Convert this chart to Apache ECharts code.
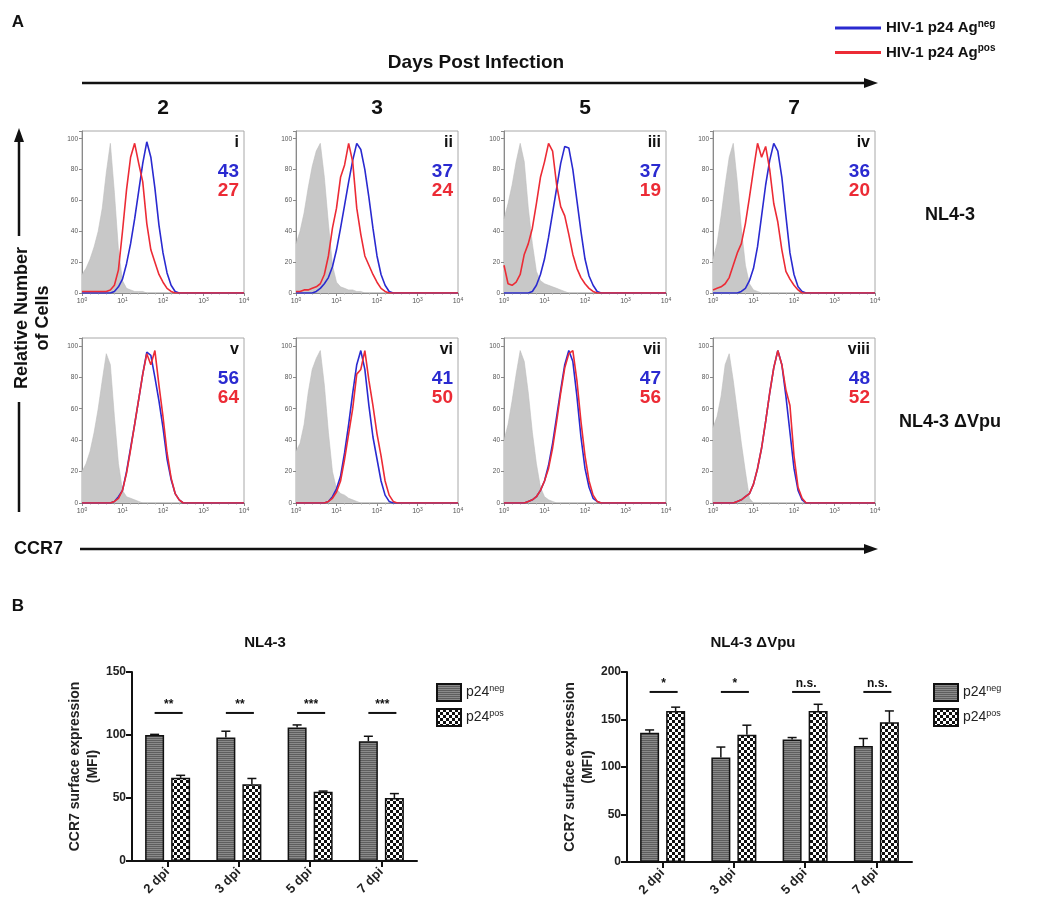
<!DOCTYPE html>
<html><head><meta charset="utf-8">
<script src="https://cdn.jsdelivr.net/npm/echarts@6/dist/echarts.min.js"></script>
<style>html,body{margin:0;padding:0;background:#fff}#c{width:1050px;height:908px}</style>
</head><body><div id="c"></div><script>
// ---------------- DATA ----------------
// histogram bins, position in decades (10^x)
const logBins = [0,0.1,0.2,0.3,0.4,0.5,0.6,0.7,0.8,0.9,1.0,1.1,1.2,1.3,1.4,1.5,1.6,1.7,1.8,1.9,2.0,2.1,2.2,2.3,2.4,2.5,2.6,4];
const panelLabels = ['i','ii','iii','iv','v','vi','vii','viii'];
const dayLabels = ['2','3','5','7'];
const rowLabels = ['NL4-3','NL4-3 \u0394Vpu'];
const mfiNeg = [43,37,37,36,56,41,47,48];
const mfiPos = [27,24,19,20,64,50,56,52];
// isotype control (grey filled)
const isotype = [
 [12,16,22,30,40,55,78,97,65,28,8,3,2,1,1,1,0,0,0,0,0,0,0,0,0,0,0,0],
 [32,40,52,68,82,92,97,75,45,18,7,4,3,2,2,1,1,0,0,0,0,0,0,0,0,0,0,0],
 [48,58,70,85,97,85,55,32,14,8,6,5,4,3,2,1,0,0,0,0,0,0,0,0,0,0,0,0],
 [22,32,50,70,88,97,72,42,18,6,2,1,0,0,0,0,0,0,0,0,0,0,0,0,0,0,0,0],
 [20,25,33,45,60,78,95,88,55,25,8,4,3,2,1,0,0,0,0,0,0,0,0,0,0,0,0,0],
 [33,38,50,70,85,92,97,75,45,20,9,6,5,3,2,1,0,0,0,0,0,0,0,0,0,0,0,0],
 [40,50,65,82,97,90,70,45,25,10,4,2,1,0,0,0,0,0,0,0,0,0,0,0,0,0,0,0],
 [48,55,68,88,95,78,58,38,20,3,0,0,0,0,0,0,0,0,0,0,0,0,0,0,0,0,0,0]
];
// HIV-1 p24 Ag neg (blue)
const p24neg = [
 [0,0,0,0,0,0,0,0,1,4,9,19,32,48,66,84,98,88,68,44,26,13,5,1,0,0,0,0],
 [0,0,0,0,0,1,3,6,10,17,28,42,57,72,86,97,93,80,62,42,24,12,5,1,0,0,0,0],
 [0,0,0,0,0,0,0,1,5,12,22,36,52,68,84,95,94,80,60,40,22,11,5,1,0,0,0,0],
 [0,0,0,0,0,0,0,1,3,8,16,30,50,70,86,97,92,75,50,26,12,4,1,0,0,0,0,0],
 [0,0,0,0,0,0,0,0,1,4,8,20,35,50,66,82,96,94,80,65,48,28,15,6,2,0,0,0],
 [0,0,0,0,0,0,0,0,1,4,9,17,32,50,70,88,97,85,62,42,28,14,5,1,0,0,0,0],
 [0,0,0,0,0,0,1,2,4,8,14,24,38,55,72,88,97,90,68,42,22,10,3,1,0,0,0,0],
 [0,0,0,0,0,0,1,2,4,6,12,22,35,52,70,86,97,88,68,45,22,8,2,0,0,0,0,0]
];
// HIV-1 p24 Ag pos (red)
const p24pos = [
 [1,1,1,1,1,1,1,2,5,15,40,67,88,97,84,72,45,28,20,12,7,3,1,0,0,0,0,0],
 [1,1,2,2,3,4,6,12,24,42,55,75,83,97,85,55,38,24,18,12,7,3,1,0,0,0,0,0],
 [18,6,5,7,12,25,32,42,58,75,85,97,92,70,56,50,38,25,16,10,6,3,1,0,0,0,0,0],
 [2,3,4,6,10,18,26,32,45,62,80,97,88,95,80,58,46,28,14,9,5,2,0,0,0,0,0,0],
 [0,0,0,0,0,0,0,0,1,3,8,19,34,50,66,82,95,88,97,75,55,32,16,6,2,0,0,0],
 [0,0,0,0,0,0,0,0,1,3,7,14,28,44,60,82,85,97,78,62,44,30,14,5,1,0,0,0],
 [0,0,0,0,0,0,1,2,4,8,14,22,35,52,70,86,95,97,78,52,30,14,5,1,0,0,0,0],
 [0,0,0,0,0,0,1,2,4,6,12,22,35,52,70,86,97,88,72,62,30,10,3,0,0,0,0,0]
];
// Panel B
const dpiLabels = ['2 dpi','3 dpi','5 dpi','7 dpi'];
const wtNegMean = [100, 98, 106, 95];
const wtNegErr  = [0.5, 5, 2, 4];
const wtPosMean = [66, 61, 55, 50];
const wtPosErr  = [2, 4.5, 0.5, 3.5];
const wtSig = ['**','**','***','***'];
const wtSigLevel = 117.5;
const dvNegMean = [136, 110, 129, 122];
const dvNegErr  = [3, 11, 2, 8];
const dvPosMean = [159, 134, 159, 147];
const dvPosErr  = [4, 10, 7, 12];
const dvSig = ['*','*','n.s.','n.s.'];
const dvSigLevel = 179;

// ---------------- LAYOUT / STYLE ----------------
const FONT = '"Liberation Sans", Arial, sans-serif';
const colX = [82, 296, 504, 713];
const rowY = [131, 338];
const rowH = [162, 165];
const PW = 162;
const BLUE = '#2a2ad0', RED = '#ec2b35';

function makePattern(kind){
  const c = document.createElement('canvas');
  if (kind === 'neg'){
    c.width = 4; c.height = 4;
    const g = c.getContext('2d');
    g.fillStyle = '#8a8a8a'; g.fillRect(0,0,4,4);
    g.fillStyle = '#5e5e5e'; g.fillRect(0,0,4,1); g.fillRect(0,2,4,1);
  } else {
    c.width = 6; c.height = 6;
    const g = c.getContext('2d');
    g.fillStyle = '#ffffff'; g.fillRect(0,0,6,6);
    g.fillStyle = '#111111'; g.fillRect(0,0,3,3); g.fillRect(3,3,3,3);
  }
  return {image: c, repeat: 'repeat'};
}
const negPat = makePattern('neg');
const posPat = makePattern('pos');

const grids = [], xAxes = [], yAxes = [], series = [], graphics = [];

for (let i = 0; i < 8; i++){
  const r = Math.floor(i/4), c = i % 4;
  grids.push({left: colX[c], top: rowY[r], width: PW, height: rowH[r], show: true,
    borderColor: '#a8a8a8', borderWidth: 1, backgroundColor: 'transparent'});
  xAxes.push({gridIndex: i, type: 'value', min: 0, max: 4, interval: 1,
    axisLine: {show: true, lineStyle: {color: '#8a8a8a', width: 1}},
    axisTick: {show: true, length: 3, lineStyle: {color: '#8a8a8a'}},
    minorTick: {show: true, splitNumber: 5, length: 1.5, lineStyle: {color: '#aaa'}},
    splitLine: {show: false},
    axisLabel: {margin: 4, color: '#555', formatter: v => '{b|10}{s|' + v + '}',
      rich: {b: {fontSize: 7, fontFamily: FONT, color: '#555'}, s: {fontSize: 5, fontFamily: FONT, color: '#555', padding: [0,0,4,0]}}}
  });
  yAxes.push({gridIndex: i, type: 'value', min: 0, max: 105, interval: 20,
    axisLine: {show: true, lineStyle: {color: '#8a8a8a', width: 1}},
    axisTick: {show: true, length: 3, lineStyle: {color: '#8a8a8a'}},
    splitLine: {show: false},
    axisLabel: {margin: 4, fontSize: 6.5, fontFamily: FONT, color: '#555', formatter: v => (v % 20 === 0 ? String(v) : '')}
  });
  const pts = arr => logBins.map((d, k) => [d, arr[k]]);
  series.push({type: 'line', name: 'isotype', xAxisIndex: i, yAxisIndex: i, data: pts(isotype[i]),
    symbol: 'none', silent: true, z: 2, lineStyle: {width: 0.6, color: '#bdbdbd'},
    areaStyle: {color: '#c8c8c8', opacity: 1}});
  series.push({type: 'line', name: 'HIV-1 p24 Ag neg', xAxisIndex: i, yAxisIndex: i, data: pts(p24neg[i]),
    symbol: 'none', z: 3, lineStyle: {width: 1.6, color: BLUE}, itemStyle: {color: BLUE}});
  series.push({type: 'line', name: 'HIV-1 p24 Ag pos', xAxisIndex: i, yAxisIndex: i, data: pts(p24pos[i]),
    symbol: 'none', z: 4, lineStyle: {width: 1.6, color: RED}, itemStyle: {color: RED}});
  const rx = colX[c] + PW - 5, ty = rowY[r];
  graphics.push({type: 'text', x: rx, y: ty + 12, style: {text: panelLabels[i], font: 'bold 16px ' + FONT, fill: '#111', align: 'right', verticalAlign: 'middle'}});
  graphics.push({type: 'text', x: rx, y: ty + 41, style: {text: String(mfiNeg[i]), font: 'bold 19px ' + FONT, fill: BLUE, align: 'right', verticalAlign: 'middle'}});
  graphics.push({type: 'text', x: rx, y: ty + 60, style: {text: String(mfiPos[i]), font: 'bold 19px ' + FONT, fill: RED, align: 'right', verticalAlign: 'middle'}});
}

// ---- Panel B bar charts ----
const barCharts = [
  {left: 132, top: 672, height: 189, max: 150, neg: wtNegMean, negE: wtNegErr, pos: wtPosMean, posE: wtPosErr, sig: wtSig, lvl: wtSigLevel},
  {left: 627, top: 672, height: 190, max: 200, neg: dvNegMean, negE: dvNegErr, pos: dvPosMean, posE: dvPosErr, sig: dvSig, lvl: dvSigLevel}
];
const BW = 19, GAP = 0.37, OFF = BW * (1 + GAP) / 2;
function errRender(off){
  return function(params, api){
    const c = api.coord([api.value(0), api.value(1)]);
    const t = api.coord([api.value(0), api.value(1) + api.value(2)]);
    const x = c[0] + off;
    return {type: 'group', children: [
      {type: 'line', shape: {x1: x, y1: c[1], x2: x, y2: t[1]}, style: {stroke: '#111', lineWidth: 1.5}},
      {type: 'line', shape: {x1: x - 4.5, y1: t[1], x2: x + 4.5, y2: t[1]}, style: {stroke: '#111', lineWidth: 1.5}}
    ]};
  };
}
barCharts.forEach((b, j) => {
  const gi = 8 + j;
  grids.push({left: b.left, top: b.top, width: 285, height: b.height});
  xAxes.push({gridIndex: gi, type: 'category', data: dpiLabels,
    axisLine: {show: true, lineStyle: {color: '#111', width: 2}},
    axisTick: {show: true, alignWithLabel: true, length: 6, lineStyle: {color: '#111', width: 2}},
    axisLabel: {interval: 0, rotate: 45, margin: 9, fontSize: 13, fontWeight: 'bold', fontFamily: FONT, color: '#222'}});
  yAxes.push({gridIndex: gi, type: 'value', min: 0, max: b.max, interval: 50,
    axisLine: {show: true, lineStyle: {color: '#111', width: 2}},
    axisTick: {show: true, length: 6, lineStyle: {color: '#111', width: 2}},
    splitLine: {show: false},
    axisLabel: {fontSize: 12, fontWeight: 'bold', fontFamily: FONT, color: '#222', margin: 6},
    name: 'CCR7 surface expression\n(MFI)', nameLocation: 'middle', nameGap: 30, nameRotate: 90,
    nameTextStyle: {fontSize: 14, fontWeight: 'bold', fontFamily: FONT, color: '#222', lineHeight: 18}});
  series.push({type: 'bar', name: 'p24neg', xAxisIndex: gi, yAxisIndex: gi, data: b.neg,
    barWidth: BW, barGap: (GAP * 100) + '%', itemStyle: {color: negPat, borderColor: '#111', borderWidth: 1.5}, z: 2});
  series.push({type: 'bar', name: 'p24pos', xAxisIndex: gi, yAxisIndex: gi, data: b.pos,
    barWidth: BW, barGap: (GAP * 100) + '%', itemStyle: {color: posPat, borderColor: '#111', borderWidth: 1.5}, z: 2});
  series.push({type: 'custom', xAxisIndex: gi, yAxisIndex: gi, encode: {x: 0, y: 1}, z: 5, silent: true,
    data: b.neg.map((m, k) => [k, m, b.negE[k]]), renderItem: errRender(-OFF)});
  series.push({type: 'custom', xAxisIndex: gi, yAxisIndex: gi, encode: {x: 0, y: 1}, z: 5, silent: true,
    data: b.pos.map((m, k) => [k, m, b.posE[k]]), renderItem: errRender(OFF)});
  series.push({type: 'custom', xAxisIndex: gi, yAxisIndex: gi, encode: {x: 0, y: 1}, z: 5, silent: true,
    data: b.sig.map((s, k) => [k, b.lvl]),
    renderItem: function(params, api){
      const c = api.coord([api.value(0), api.value(1)]);
      return {type: 'group', children: [
        {type: 'line', shape: {x1: c[0] - OFF, y1: c[1], x2: c[0] + OFF + 2, y2: c[1]}, style: {stroke: '#111', lineWidth: 2}},
        {type: 'text', style: {text: b.sig[params.dataIndex], x: c[0] + 1, y: c[1] - 2, font: 'bold 12px ' + FONT, fill: '#111', align: 'center', verticalAlign: 'bottom'}}
      ]};
    }});
});

// ---- free texts & arrows ----
const T = (x, y, text, font, opts) => Object.assign({type: 'text', x: x, y: y,
  style: Object.assign({text: text, font: font, fill: '#111', align: 'center', verticalAlign: 'middle'}, (opts && opts.style) || {})},
  opts && opts.el || {});
graphics.push(T(18, 22, 'A', 'bold 17px ' + FONT));
graphics.push(T(18, 606, 'B', 'bold 17px ' + FONT));
graphics.push(T(476, 63, 'Days Post Infection', 'bold 19px ' + FONT));
dayLabels.forEach((d, c) => graphics.push(T(colX[c] + PW / 2, 108, d, 'bold 21px ' + FONT)));
rowLabels.forEach((t, r) => graphics.push(T(950, rowY[r] + 84, t, 'bold 18px ' + FONT)));
graphics.push(T(22, 318, 'Relative Number', 'bold 18px ' + FONT, {el: {rotation: Math.PI / 2}}));
graphics.push(T(43, 318, 'of Cells', 'bold 18px ' + FONT, {el: {rotation: Math.PI / 2}}));
graphics.push(T(14, 549, 'CCR7', 'bold 18px ' + FONT, {style: {align: 'left'}}));
graphics.push(T(265, 643, 'NL4-3', 'bold 15px ' + FONT));
graphics.push(T(753, 643, 'NL4-3 \u0394Vpu', 'bold 15px ' + FONT));
const L = (x1, y1, x2, y2) => ({type: 'line', shape: {x1, y1, x2, y2}, style: {stroke: '#111', lineWidth: 2.5}});
const P = pts => ({type: 'polygon', shape: {points: pts}, style: {fill: '#111'}});
graphics.push(L(82, 83, 866, 83), P([[864, 78], [878, 83], [864, 88]]));
graphics.push(L(80, 549, 866, 549), P([[864, 544], [878, 549], [864, 554]]));
graphics.push(L(19, 140, 19, 236), P([[14, 142], [19, 128], [24, 142]]));
graphics.push(L(19, 402, 19, 512));

const legendRich = (bold, size, sup, col) => ({
  a: {fontSize: size, fontWeight: bold ? 'bold' : 'normal', fontFamily: FONT, color: col},
  s: {fontSize: sup, fontWeight: bold ? 'bold' : 'normal', fontFamily: FONT, color: col, padding: [0, 0, 8, 0]}
});
const option = {
  backgroundColor: '#fff',
  animation: false,
  grid: grids, xAxis: xAxes, yAxis: yAxes, series: series,
  legend: [
    {data: ['HIV-1 p24 Ag neg', 'HIV-1 p24 Ag pos'], orient: 'vertical', left: 830, top: 14,
      icon: 'rect', itemWidth: 46, itemHeight: 3, itemGap: 8, selectedMode: false,
      formatter: n => '{a|HIV-1 p24 Ag}{s|' + n.split(' ').pop() + '}',
      textStyle: {rich: legendRich(true, 15, 10, '#111')}},
    {data: ['p24neg', 'p24pos'], orient: 'vertical', left: 431, top: 678, icon: 'rect',
      itemWidth: 24, itemHeight: 17, itemGap: 6, selectedMode: false,
      formatter: n => '{a|p24}{s|' + n.slice(3) + '}',
      textStyle: {rich: legendRich(false, 14, 9, '#222')}},
    {data: ['p24neg', 'p24pos'], orient: 'vertical', left: 928, top: 678, icon: 'rect',
      itemWidth: 24, itemHeight: 17, itemGap: 6, selectedMode: false,
      formatter: n => '{a|p24}{s|' + n.slice(3) + '}',
      textStyle: {rich: legendRich(false, 14, 9, '#222')}}
  ],
  graphic: graphics
};
const chart = echarts.init(document.getElementById('c'), null, {renderer: 'canvas'});
chart.setOption(option);
</script></body></html>
